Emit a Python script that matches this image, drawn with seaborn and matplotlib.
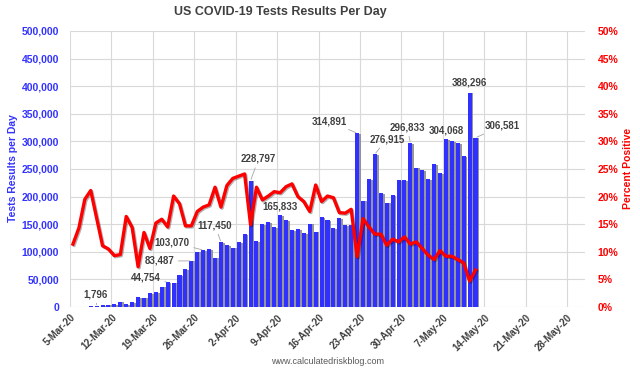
import numpy as np
import pandas as pd
import matplotlib
matplotlib.use('Agg')
import matplotlib.pyplot as plt
import matplotlib.patheffects as pe
from matplotlib.ticker import FuncFormatter, MultipleLocator
import seaborn as sns

# ---- data (5-Mar-20 .. 12-May-20) ----
start_date = '2020-03-05'
tests_per_day = [
    200, 400, 700, 1100, 1796, 3600, 4200, 5400, 9700, 5400,
    8500, 17500, 16900, 24800, 27200, 36800, 44754, 44000, 58000, 68800,
    83487, 100200, 103070, 105000, 89400, 117450, 112300, 107400, 117800, 132200,
    228797, 119600, 150400, 153400, 144900, 165833, 157600, 139500, 141300, 133500,
    151000, 136400, 163000, 157600, 142500, 160600, 148000, 148000, 314891, 192600,
    231900, 276915, 206000, 189000, 202000, 230000, 230000, 296833, 252000, 248000,
    231900, 259000, 242000, 304068, 300000, 296500, 273500, 388296, 306581,
]
percent_positive = [
    11.4, 14.3, 19.5, 21.1, 16.1, 11.1, 10.5, 9.3, 9.5, 16.4,
    14.4, 7.3, 13.5, 10.6, 15.2, 15.9, 14.5, 20.1, 18.7, 14.7,
    14.7, 17.3, 18.1, 18.5, 21.7, 18.1, 22.0, 23.3, 23.7, 24.1,
    14.9, 21.7, 19.4, 20.1, 20.9, 20.7, 21.8, 22.3, 20.0, 19.1,
    17.3, 22.1, 19.1, 20.1, 19.8, 17.1, 17.0, 17.7, 9.1, 16.0,
    14.5, 13.2, 13.2, 11.2, 12.3, 11.8, 12.7, 11.4, 11.8, 10.6,
    9.4, 8.6, 10.2, 9.2, 9.2, 8.6, 8.0, 4.7, 6.7,
]
tick_labels = ['5-Mar-20', '12-Mar-20', '19-Mar-20', '26-Mar-20', '2-Apr-20',
               '9-Apr-20', '16-Apr-20', '23-Apr-20', '30-Apr-20', '7-May-20',
               '14-May-20', '21-May-20', '28-May-20']
labelled_dates = ['2020-03-09', '2020-03-21', '2020-03-25', '2020-03-27', '2020-03-30',
                  '2020-04-04', '2020-04-09', '2020-04-22', '2020-04-25', '2020-05-01',
                  '2020-05-07', '2020-05-11', '2020-05-12']

# label layout: text offset from bar top in pixels, and whether a leader line is drawn
label_offsets = [(-1, 12), (-22, 5), (-32, 0), (-31, 8), (-6, 17),
                 (8, 22), (0, 9), (-28, 12), (12, 15), (-3, 16),
                 (0, 9), (0, 10), (27, 12)]
label_leaders = [True, True, True, True, True,
                 True, False, True, True, True,
                 False, False, True]

df = pd.DataFrame({'date': pd.date_range(start_date, periods=len(tests_per_day)),
                   'tests': tests_per_day, 'pct': percent_positive})
t0 = pd.Timestamp(start_date)
df['day'] = (df['date'] - t0).dt.days + 0.5

plt.rcParams['font.family'] = 'Liberation Sans'

fig = plt.figure(figsize=(6.4, 3.72), dpi=100)
ax = fig.add_axes([70 / 640, 65 / 372, 515 / 640, 276 / 372])

sns.barplot(data=df, x='day', y='tests', native_scale=True, color='#3030FF',
            saturation=1, width=0.68, ax=ax)
for bar in ax.patches:
    bar.set_path_effects([pe.withSimplePatchShadow(offset=(1.3, -0.4),
                                                   shadow_rgbFace='#8c8c8c', alpha=0.9)])

ax2 = ax.twinx()
sns.lineplot(data=df, x='day', y='pct', color='#FF0000', linewidth=2.4, ax=ax2)
line = ax2.lines[0]
line.set_solid_joinstyle('round')
line.set_path_effects([pe.SimpleLineShadow(offset=(0.8, -0.8), shadow_color='black', alpha=0.3),
                       pe.Normal()])

tick_pos = [(pd.Timestamp(d) - t0).days for d in pd.date_range(start_date, periods=len(tick_labels), freq='7D')]
ax.set_xlim(0, 87)
ax.set_ylim(0, 500000)
ax2.set_ylim(0, 50)
ax.set_xticks(tick_pos)
ax.set_xticklabels(tick_labels, rotation=45, ha='right', va='top', rotation_mode='anchor',
                   fontsize=7, fontweight='bold', color='#404040')
ax.yaxis.set_major_locator(MultipleLocator(50000))
ax.yaxis.set_major_formatter(FuncFormatter(lambda v, p: f'{v:,.0f}'))
ax2.yaxis.set_major_locator(MultipleLocator(5))
ax2.yaxis.set_major_formatter(FuncFormatter(lambda v, p: f'{v:.0f}%'))
for lab in ax.get_yticklabels():
    lab.set_fontweight('bold')
for lab in ax2.get_yticklabels():
    lab.set_fontweight('bold')
ax.tick_params(axis='y', length=0, pad=8, labelsize=7.5, labelcolor='#3333FF')
ax.tick_params(axis='x', length=0, pad=4)
ax2.tick_params(axis='y', length=0, pad=9, labelsize=7.5, labelcolor='#FF0000')
ax.set_xlabel('')
ax.set_ylabel('')
ax2.set_ylabel('')

ax.grid(True, color='#D9D9D9', linewidth=0.8)
ax.set_axisbelow(True)
ax2.grid(False)
for a in (ax, ax2):
    for s in a.spines.values():
        s.set_visible(False)

# data labels
for d, (dx, dy), lead in zip(labelled_dates, label_offsets, label_leaders):
    row = df[df['date'] == pd.Timestamp(d)].iloc[0]
    kw = {}
    if lead:
        kw['arrowprops'] = dict(arrowstyle='-', color='#A6A6A6', lw=0.6,
                                shrinkA=1, shrinkB=1)
    ax.annotate(f"{row['tests']:,.0f}", xy=(row['day'], row['tests']),
                xytext=(dx, dy), textcoords='offset pixels', ha='center', va='center',
                fontsize=7, fontweight='bold', color='#404040', annotation_clip=False, **kw)

fig.text(280 / 640, 1 - 12 / 372, 'US COVID-19 Tests Results Per Day', ha='center', va='center',
         fontsize=9, fontweight='bold', color='#404040')
fig.text(13 / 640, 1 - 168 / 372, 'Tests Results per Day', rotation=90, ha='center', va='center',
         fontsize=7.5, fontweight='bold', color='#3333FF')
fig.text(628 / 640, 1 - 168 / 372, 'Percent Positive', rotation=90, ha='center', va='center',
         fontsize=7.5, fontweight='bold', color='#FF0000')
fig.text(328 / 640, 1 - 362 / 372, 'www.calculatedriskblog.com', ha='center', va='center',
         fontsize=6.5, color='#595959')

fig.savefig('out.png', dpi=100)
